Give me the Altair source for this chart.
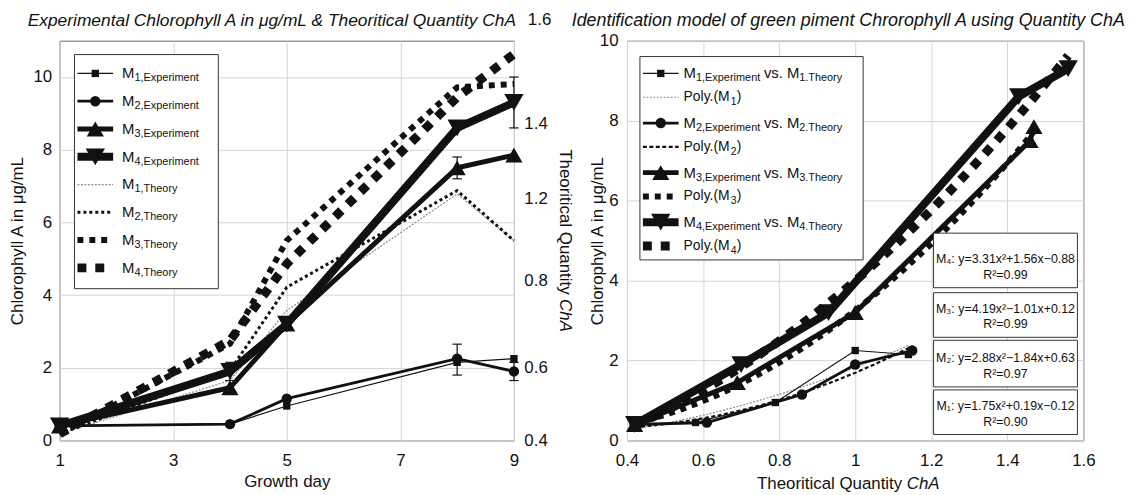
import altair as alt
import pandas as pd

FONT = "Liberation Sans"
INK = "#111111"

# ---------------- data ----------------
series = ["M1", "M2", "M3", "M4"]
days = [1, 4, 5, 8, 9]
m1_exp = [0.40, 0.45, 0.95, 2.15, 2.25]
m2_exp = [0.40, 0.45, 1.15, 2.25, 1.90]
m3_exp = [0.40, 1.45, 3.20, 7.50, 7.85]
m4_exp = [0.40, 1.90, 3.20, 8.60, 9.30]
m1_theory = [0.42, 0.58, 0.79, 1.14, 1.00]
m2_theory = [0.42, 0.61, 0.86, 1.15, 1.00]
m3_theory = [0.42, 0.69, 1.00, 1.46, 1.47]
m4_theory = [0.42, 0.70, 0.93, 1.43, 1.56]

err_day = [4, 8, 9, 8, 9]
err_low = [1.65, 1.80, 1.65, 7.20, 8.60]
err_high = [2.15, 2.65, 2.15, 7.80, 10.00]

fit_eq = ["M₁: y=1.75x²+0.19x−0.12", "M₂: y=2.88x²−1.84x+0.63",
          "M₃: y=4.19x²−1.01x+0.12", "M₄: y=3.31x²+1.56x−0.88"]
fit_r2 = ["R²=0.90", "R²=0.97", "R²=0.99", "R²=0.99"]

left_x_ticks = [1, 3, 5, 7, 9]
left_y_ticks = [0, 2, 4, 6, 8, 10]
right_axis_ticks = [0.4, 0.618, 0.88, 1.127, 1.351]
right_axis_labels = ["0.4", "0.6", "0.8", "1.2", "1.4"]
right_axis_top_label = "1.6"
right_x_ticks = [0.4, 0.6, 0.8, 1.0, 1.2, 1.4, 1.6]
right_y_ticks = [0, 2, 4, 6, 8, 10]

left_legend_sub = ["1,Experiment", "2,Experiment", "3,Experiment", "4,Experiment",
                   "1,Theory", "2,Theory", "3,Theory", "4,Theory"]
right_legend_exp_sub = ["1,Experiment", "2,Experiment", "3,Experiment", "4,Experiment"]
right_legend_th_sub = ["1.Theory", "2.Theory", "3.Theory", "4.Theory"]
right_legend_poly_sub = ["1", "2", "3", "4"]

left_title = "Experimental Chlorophyll A in μg/mL & Theoritical Quantity ChA"
right_title = "Identification model of green piment Chrorophyll A using Quantity ChA"
cha_title_plain = "Theoritical Quantity"
cha_title_italic = "ChA"

# ---------------- tables ----------------
exps = [m1_exp, m2_exp, m3_exp, m4_exp]
ths = [m1_theory, m2_theory, m3_theory, m4_theory]
rows = []
for s, ex, th in zip(series, exps, ths):
    for d, e, t in zip(days, ex, th):
        rows.append({"s": s, "day": d, "chl": e, "cha": t})
df = pd.DataFrame(rows)
err_df = pd.DataFrame({"day": err_day, "lo": err_low, "hi": err_high})
ONE = pd.DataFrame({"k": [0]})

# ---------------- styles ----------------
EXP = {
    "M1": dict(w=1.2, shape="square", size=55),
    "M2": dict(w=2.8, shape="circle", size=110),
    "M3": dict(w=5.0, shape="triangle-up", size=300),
    "M4": dict(w=8.0, shape="triangle-down", size=380),
}
TH = {
    "M1": dict(w=1.2, dash=[2, 1.5], color="#8a8a8a"),
    "M2": dict(w=3.0, dash=[3, 3], color=INK),
    "M3": dict(w=6.0, dash=[6, 6], color=INK),
    "M4": dict(w=9.0, dash=[9, 9], color=INK),
}
POLY = {
    "M1": dict(w=1.2, dash=[2, 1.5], color="#8a8a8a"),
    "M2": dict(w=2.2, dash=[4, 2.5], color=INK),
    "M3": dict(w=6.0, dash=[6, 6], color=INK),
    "M4": dict(w=9.0, dash=[9, 9], color=INK),
}

# ---------------- helpers for overlay marks (pixel positions) ----------------
def ltext(x, y, s, size, dy=0, align="left", italic=False, angle=0):
    kw = dict(text=s, fontSize=size, font=FONT, align=align, baseline="middle", dy=dy, color=INK)
    if italic:
        kw["fontStyle"] = "italic"
    if angle:
        kw["angle"] = angle
    return alt.Chart(ONE).mark_text(**kw).encode(x=alt.value(x), y=alt.value(y))


def lrule(x1, x2, y, w, dash=None, color=INK):
    kw = dict(strokeWidth=w, color=color, strokeCap="butt")
    if dash:
        kw["strokeDash"] = dash
    return alt.Chart(ONE).mark_rule(**kw).encode(x=alt.value(x1), x2=alt.value(x2), y=alt.value(y))


def lpoint(x, y, shape, size):
    return alt.Chart(ONE).mark_point(shape=shape, size=size, filled=True, color=INK,
                                     opacity=1).encode(x=alt.value(x), y=alt.value(y))


def lbox(x1, x2, y1, y2):
    return alt.Chart(ONE).mark_rect(fill="white", stroke="#333333", strokeWidth=1).encode(
        x=alt.value(x1), x2=alt.value(x2), y=alt.value(y1), y2=alt.value(y2))


# ---------------- left panel ----------------
AX_LX = alt.Axis(values=left_x_ticks, title="Growth day", grid=True, ticks=False, domain=False,
                 labelPadding=12, titlePadding=5, format="d", labelFlush=False)
AX_LY = alt.Axis(values=left_y_ticks, title="Chlorophyll A in μg/mL", grid=True, ticks=False,
                 domain=False, labelPadding=8, titlePadding=7, minExtent=26, maxExtent=26,
                 labelFlush=False)
label_expr = ("datum.value < 0.5 ? '%s' : datum.value < 0.7 ? '%s' : datum.value < 1.0 ? '%s' : "
              "datum.value < 1.2 ? '%s' : '%s'") % tuple(right_axis_labels)
AX_LY2 = alt.Axis(orient="right", values=right_axis_ticks, labelExpr=label_expr,
                  title=None, grid=False, ticks=False, domain=False,
                  labelPadding=10, labelFlush=False)

XL = alt.X("day:Q", scale=alt.Scale(domain=[1, 9], nice=False, zero=False), axis=AX_LX)


def YL(field):
    return alt.Y(field, scale=alt.Scale(domain=[0, 11], nice=False, zero=False), axis=AX_LY)


YT = alt.Y("cha:Q", scale=alt.Scale(domain=[0.4, 1.6], nice=False, zero=False), axis=AX_LY2)

theory_layers = []
for s in series:
    st = TH[s]
    theory_layers.append(
        alt.Chart(df).transform_filter(alt.datum.s == s).mark_line(
            color=st["color"], strokeWidth=st["w"], strokeDash=st["dash"], strokeCap="butt"
        ).encode(x=XL, y=YT, order="day:Q"))

main_layers = []
for s in series:
    st = EXP[s]
    base = alt.Chart(df).transform_filter(alt.datum.s == s)
    main_layers.append(base.mark_line(color=INK, strokeWidth=st["w"]).encode(
        x=XL, y=YL("chl:Q"), order="day:Q"))
for s in series:
    st = EXP[s]
    base = alt.Chart(df).transform_filter(alt.datum.s == s)
    main_layers.append(base.mark_point(shape=st["shape"], size=st["size"], filled=True,
                                       color=INK, opacity=1).encode(x=XL, y=YL("chl:Q")))
main_layers.append(alt.Chart(err_df).mark_rule(color=INK, strokeWidth=1.2).encode(
    x=XL, y=YL("lo:Q"), y2="hi:Q"))
for f in ["lo:Q", "hi:Q"]:
    main_layers.append(alt.Chart(err_df).mark_point(shape="stroke", size=90, color=INK,
                                                    strokeWidth=1.2, opacity=1).encode(
        x=XL, y=YL(f)))

left_leg = [lbox(15, 160, 14, 250)]
for i in range(8):
    y = 33 + 28 * i
    s = series[i % 4]
    if i < 4:
        left_leg.append(lrule(18, 54, y, EXP[s]["w"]))
        left_leg.append(lpoint(36, y, EXP[s]["shape"], EXP[s]["size"]))
    else:
        left_leg.append(lrule(18, 54, y, TH[s]["w"], TH[s]["dash"], TH[s]["color"]))
    left_leg.append(ltext(63, y, "M", 15))
    left_leg.append(ltext(75.5, y, left_legend_sub[i], 11, dy=5))
left_leg.append(ltext(472, -21, right_axis_top_label, 17))
left_leg.append(ltext(214, -20, left_title, 17.5, align="center", italic=True))
left_leg.append(ltext(509, 109.5, cha_title_plain, 17, angle=90))
left_leg.append(ltext(509, 260.5, cha_title_italic, 17, angle=90, italic=True))

left = alt.layer(alt.layer(*theory_layers), alt.layer(*main_layers), *left_leg).resolve_scale(
    y="independent").properties(width=458, height=403)

# ---------------- right panel ----------------
XR = alt.X("cha:Q", scale=alt.Scale(domain=[0.4, 1.6], nice=False, zero=False),
           axis=alt.Axis(values=right_x_ticks, format="~g", title=None, grid=True, ticks=False,
                         domain=False, labelPadding=12, labelFlush=False))
YR = alt.Y("chl:Q", scale=alt.Scale(domain=[0, 10], nice=False, zero=False),
           axis=alt.Axis(values=right_y_ticks, title="Chlorophyll A in μg/mL", grid=True,
                         ticks=False, domain=False, labelPadding=9, titlePadding=1,
                         minExtent=20, maxExtent=20, labelFlush=False))

right_layers = []
for s in series:
    st = POLY[s]
    right_layers.append(
        alt.Chart(df).transform_filter(alt.datum.s == s).transform_regression(
            "cha", "chl", method="poly", order=2).mark_line(
            color=st["color"], strokeWidth=st["w"], strokeDash=st["dash"], strokeCap="butt"
        ).encode(x=XR, y=YR, order="cha:Q"))
for s in series:
    st = EXP[s]
    base = alt.Chart(df).transform_filter(alt.datum.s == s)
    right_layers.append(base.mark_line(color=INK, strokeWidth=st["w"]).encode(
        x=XR, y=YR, order="cha:Q"))
for s in series:
    st = EXP[s]
    base = alt.Chart(df).transform_filter(alt.datum.s == s)
    right_layers.append(base.mark_point(shape=st["shape"], size=st["size"], filled=True,
                                        color=INK, opacity=1).encode(x=XR, y=YR))

right_leg = [lbox(13, 238, 16, 221)]
for k in range(4):
    s = series[k]
    y1 = 33 + 50 * k
    y2 = y1 + 24
    right_leg.append(lrule(16, 52, y1, EXP[s]["w"]))
    right_leg.append(lpoint(34, y1, EXP[s]["shape"], EXP[s]["size"]))
    right_leg.append(ltext(57, y1, "M", 15))
    right_leg.append(ltext(69.5, y1, right_legend_exp_sub[k], 11, dy=5))
    right_leg.append(ltext(138, y1, "vs. M", 15))
    right_leg.append(ltext(173.5, y1, right_legend_th_sub[k], 11, dy=5))
    right_leg.append(lrule(16, 52, y2, POLY[s]["w"], POLY[s]["dash"], POLY[s]["color"]))
    right_leg.append(ltext(57, y2, "Poly.(M", 14))
    right_leg.append(ltext(104.5, y2, right_legend_poly_sub[k], 10.5, dy=5))
    right_leg.append(ltext(110.5, y2, ")", 14))

eq_boxes = [(352, 397), (302, 349), (254, 299), (194, 249)]
for k in range(4):
    top, bot = eq_boxes[k]
    right_leg.append(lbox(309, 454, top, bot))
    right_leg.append(ltext(381.5, bot - 29, fit_eq[k], 12.5, align="center"))
    right_leg.append(ltext(381.5, bot - 13, fit_r2[k], 12.5, align="center"))
right_leg.append(ltext(223, -20, right_title, 18, align="center", italic=True))
right_leg.append(ltext(131, 447, cha_title_plain, 17))
right_leg.append(ltext(282, 447, cha_title_italic, 17, italic=True))

right = alt.layer(*right_layers, *right_leg).properties(width=460, height=403)

chart = alt.hconcat(left, right, spacing=114, bounds="flush").properties(
    padding={"left": 0, "top": 0, "right": 2, "bottom": 0}, background="white"
).configure_view(stroke="#666666", strokeWidth=1).configure_axis(
    labelFont=FONT, labelFontSize=17, labelColor=INK, titleFont=FONT, titleFontSize=17,
    titleFontWeight="normal", titleColor=INK, gridColor="#d6d6d6", gridWidth=1
)

chart.save("out.html", embed_options={"renderer": "svg", "actions": False})
